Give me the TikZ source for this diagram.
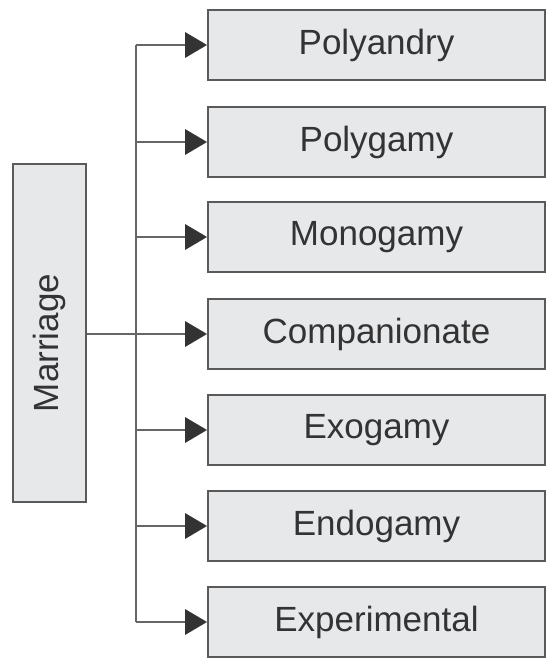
\documentclass[tikz,border=0pt]{standalone}
\usepackage{fontspec}
\setmainfont{Liberation Sans}
\usetikzlibrary{arrows.meta}
\definecolor{boxfill}{HTML}{E7E8EA}
\definecolor{boxline}{HTML}{5A5A5A}
\definecolor{conline}{HTML}{666666}
\definecolor{txt}{HTML}{333333}
\begin{document}
\begin{tikzpicture}[x=1pt,y=-1pt,
  box/.style={draw=boxline, fill=boxfill, line width=2pt, inner sep=0pt,
    minimum width=337pt, minimum height=70pt, text=txt,
    font=\fontsize{35}{40}\selectfont},
  mbox/.style={draw=boxline, fill=boxfill, line width=2pt, inner sep=0pt,
    minimum width=73pt, minimum height=338pt},
  conn/.style={draw=conline, line width=2pt},
  arr/.style={conn, -{Triangle[length=22pt,width=26pt,color=txt,line width=0pt]}}]
\useasboundingbox (0,0) rectangle (548,660);
\node[mbox] (m) at (49.5,333) {};
\node[rotate=90, text=txt, font=\fontsize{35}{40}\selectfont] (mt) at (49.5,343) {Marriage};
\foreach \i/\y/\t in {1/45/Polyandry,2/142/Polygamy,3/237/Monogamy,4/334/Companionate,5/430/Exogamy,6/526/Endogamy,7/622/Experimental}{
  \node[box] (b\i) at (376.5,\y) {\t};
  \coordinate (t\i) at (136,\y);
}
\draw[conn] (t1) -- (t7);
\draw[conn] (m.east |- t4) -- (t4);
\foreach \i in {1,...,7}{
  \draw[arr] (t\i) -- (b\i.west);
}
\end{tikzpicture}
\end{document}
